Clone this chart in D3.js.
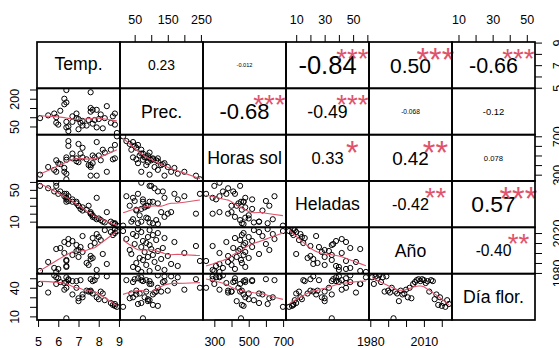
<!DOCTYPE html>
<html>
<head>
<meta charset="utf-8">
<script src="https://cdn.jsdelivr.net/npm/d3@7"></script>
<style>
  body { margin: 0; background: #fff; }
  svg { display: block; font-family: "Liberation Sans", Arial, sans-serif; }
</style>
</head>
<body>
<svg id="chart" width="559" height="348"></svg>
<script>
// variable names shown on the diagonal
const labels = ['Temp.', 'Prec.', 'Horas sol', 'Heladas', 'Año', 'Día flor.'];

// one row per year
const anio = [1981, 1982, 1983, 1984, 1985, 1986, 1987, 1988, 1989, 1990,
  1991, 1992, 1993, 1994, 1995, 1996, 1997, 1998, 1999, 2000,
  2001, 2002, 2003, 2004, 2005, 2006, 2007, 2008, 2009, 2010,
  2011, 2012, 2013, 2014, 2015, 2016, 2017, 2018, 2019, 2020,
  2021, 2022, 2023, 2024];
const temp = [5.9, 5.1, 7.9, 6.0, 5.8, 6.4, 6.4, 7.5, 8.4, 7.4,
  5.5, 6.4, 6.4, 7.6, 7.7, 7.0, 7.6, 6.7, 8.2, 6.3,
  7.2, 6.9, 7.0, 5.9, 6.1, 7.1, 7.6, 6.9, 6.5, 7.8,
  6.3, 6.7, 8.1, 6.5, 7.7, 8.0, 7.2, 8.7, 7.9, 8.8,
  8.6, 8.9, 8.3, 8.8];
const prec = [70, 95, 140, 60, 120, 45, 180, 85, 160, 55,
  110, 247, 75, 130, 65, 90, 150, 105, 40, 200,
  80, 120, 35, 100, 135, 70, 235, 95, 50, 85,
  170, 75, 115, 25, 140, 90, 55, 105, 45, 120,
  70, 15, 95, 60];
const horasSol = [330, 300, 290, 420, 350, 480, 310, 400, 330, 460,
  380, 252, 455, 400, 500, 430, 380, 470, 560, 330,
  480, 440, 620, 450, 410, 520, 290, 470, 600, 480,
  370, 520, 450, 650, 420, 500, 580, 460, 640, 470,
  560, 699, 530, 610];
const heladas = [59, 55, 40, 45, 48, 40, 38, 30, 22, 25,
  52, 45, 35, 22, 18, 30, 20, 35, 10, 42,
  28, 33, 30, 55, 48, 26, 20, 35, 36, 15,
  45, 38, 12, 42, 16, 14, 24, 8, 13, 7,
  10, 5, 9, 8];
const diaFlor = [51, 44, 52, 50, 53, 46, 51, 36, 52, 37,
  35, 40, 8, 36, 34, 26, 37, 33, 34, 38,
  30, 40, 29, 44, 46, 48, 49, 47, 49, 48,
  45, 47, 36, 48, 47, 28, 33, 22, 30, 21,
  24, 20, 27, 23];

// upper triangle, row by row
const corLabels = ['0.23', '-0.012', '-0.84', '0.50', '-0.66',
  '-0.68', '-0.49', '-0.068', '-0.12',
  '0.33', '0.42', '0.078',
  '-0.42', '0.57',
  '-0.40'];
const corStars = ['', '', '***', '***', '***',
  '***', '***', '', '',
  '*', '**', '',
  '**', '***',
  '**'];

// axis ticks and the labels R kept after overlap checks
const ticks = [[5, 6, 7, 8, 9], [50, 100, 150, 200, 250], [300, 400, 500, 600, 700],
  [10, 20, 30, 40, 50, 60], [1980, 1990, 2000, 2010, 2020], [10, 20, 30, 40, 50]];
const labelsH = [[5, 6, 7, 8, 9], [50, 150, 250], [300, 500, 700],
  [10, 30, 50], [1980, 2010], [10, 30, 50]];
const labelsV = [[5, 7, 9], [50, 200], [300, 700],
  [10, 50], [1980, 2020], [10, 40]];

const vars = [temp, prec, horasSol, heladas, anio, diaFlor];
const red = '#DF536B';

const W = 559, H = 348;
const margin = { top: 42, right: 24, bottom: 28, left: 37 };
const n = labels.length;
const pw = (W - margin.left - margin.right) / n;
const ph = (H - margin.top - margin.bottom) / n;
const tickFont = 12.5;

const svg = d3.select('#chart');
const g = svg.append('g').attr('transform', `translate(${margin.left},${margin.top})`);

// 4% range extension like R's default axes
const ext = v => {
  const [a, b] = d3.extent(v);
  const d = (b - a) * 0.04;
  return [a - d, b + d];
};
const xs = vars.map(v => d3.scaleLinear().domain(ext(v)).range([0, pw]));
const ys = vars.map(v => d3.scaleLinear().domain(ext(v)).range([ph, 0]));

// R's lowess (clowess without the delta shortcut)
function lowess(xv, yv, f = 2 / 3, iter = 3) {
  const idx = d3.range(xv.length).sort((a, b) => xv[a] - xv[b]);
  const x = idx.map(i => xv[i]), y = idx.map(i => yv[i]);
  const N = x.length;
  const ns = Math.max(2, Math.min(N, Math.floor(f * N + 1e-7)));
  const rw = new Array(N).fill(1);
  const fit = new Array(N).fill(0);
  const range = x[N - 1] - x[0];
  for (let it = 0; it <= iter; it++) {
    let nleft = 0, nright = ns - 1;
    for (let i = 0; i < N; i++) {
      while (nright < N - 1) {
        if (x[i] - x[nleft] <= x[nright + 1] - x[i]) break;
        nleft++; nright++;
      }
      const h = Math.max(x[i] - x[nleft], x[nright] - x[i]);
      const h9 = 0.999 * h, h1 = 0.001 * h;
      const w = new Array(N).fill(0);
      let sw = 0, j;
      for (j = nleft; j < N; j++) {
        const r = Math.abs(x[j] - x[i]);
        if (r <= h9) {
          w[j] = (r <= h1 ? 1 : Math.pow(1 - Math.pow(r / h, 3), 3)) * rw[j];
          sw += w[j];
        } else if (x[j] > x[i]) break;
      }
      const nrt = j - 1;
      if (sw <= 0) { fit[i] = y[i]; continue; }
      for (let k = nleft; k <= nrt; k++) w[k] /= sw;
      if (h > 0) {
        let a = 0;
        for (let k = nleft; k <= nrt; k++) a += w[k] * x[k];
        let b = x[i] - a, c = 0;
        for (let k = nleft; k <= nrt; k++) c += w[k] * (x[k] - a) * (x[k] - a);
        if (Math.sqrt(c) > 0.001 * range) {
          b /= c;
          for (let k = nleft; k <= nrt; k++) w[k] *= (b * (x[k] - a) + 1);
        }
      }
      let s = 0;
      for (let k = nleft; k <= nrt; k++) s += w[k] * y[k];
      fit[i] = s;
    }
    if (it === iter) break;
    const res = y.map((v, i) => Math.abs(v - fit[i]));
    const cmad = 6 * d3.median(res);
    if (cmad < 1e-7 * d3.mean(res)) break;
    for (let k = 0; k < N; k++) {
      const r = res[k];
      rw[k] = r <= 0.001 * cmad ? 1 : r <= 0.999 * cmad ? Math.pow(1 - (r / cmad) * (r / cmad), 2) : 0;
    }
  }
  return x.map((v, i) => [v, fit[i]]);
}

// text width helper
const probe = svg.append('text').attr('font-size', 100).attr('visibility', 'hidden');
const textW = s => { probe.text(s); return probe.node().getComputedTextLength() / 100; };

const labelFs = 0.9 * pw / d3.max(labels, textW);

let ci = 0;
for (let i = 0; i < n; i++) {
  for (let j = 0; j < n; j++) {
    const cell = g.append('g').attr('transform', `translate(${j * pw},${i * ph})`);
    if (i === j) {
      const s = labels[i];
      const desc = /[gjpqy]/.test(s) ? 0.21 : 0;
      cell.append('text')
        .attr('x', pw / 2)
        .attr('y', ph / 2 + (0.716 - desc) / 2 * labelFs)
        .attr('text-anchor', 'middle')
        .attr('font-size', labelFs)
        .text(s);
    } else if (j > i) {
      const txt = corLabels[ci], st = corStars[ci];
      ci++;
      const r = Math.abs(+txt);
      const base = 0.8 * pw / textW(txt);
      const fs = base * (r + 0.3) / 1.3;
      cell.append('text')
        .attr('x', pw / 2)
        .attr('y', ph / 2 + 0.358 * fs)
        .attr('text-anchor', 'middle')
        .attr('font-size', fs)
        .text(txt);
      if (st) {
        cell.append('text')
          .attr('x', 0.8 * pw)
          .attr('y', 0.2 * ph + 0.575 * base)
          .attr('text-anchor', 'middle')
          .attr('font-size', base * 0.95)
          .attr('fill', red)
          .text(st);
      }
    } else {
      const x = xs[j], y = ys[i];
      const clipId = `clip-${i}-${j}`;
      cell.append('clipPath').attr('id', clipId)
        .append('rect').attr('width', pw).attr('height', ph);
      const inner = cell.append('g').attr('clip-path', `url(#${clipId})`);
      inner.selectAll('circle')
        .data(d3.range(vars[j].length))
        .enter()
        .append('circle')
        .attr('cx', k => x(vars[j][k]))
        .attr('cy', k => y(vars[i][k]))
        .attr('r', 2.6)
        .attr('fill', 'none')
        .attr('stroke', '#000')
        .attr('stroke-width', 1);
      inner.append('path')
        .datum(lowess(vars[j], vars[i]))
        .attr('d', d3.line().x(d => x(d[0])).y(d => y(d[1])))
        .attr('fill', 'none')
        .attr('stroke', red)
        .attr('stroke-width', 1.1);
    }
    cell.append('rect')
      .attr('width', pw).attr('height', ph)
      .attr('fill', 'none')
      .attr('stroke', '#000')
      .attr('stroke-width', 1.7);
  }
}
probe.remove();

const fmt = list => d => list.includes(d) ? d : '';

function styleAxis(sel) {
  sel.select('.domain').remove();
  sel.selectAll('.tick line').attr('stroke', '#000').attr('stroke-width', 1);
  sel.selectAll('.tick text')
    .attr('font-size', tickFont)
    .attr('font-family', '"Liberation Sans", Arial, sans-serif')
    .attr('fill', '#000');
}

for (let k = 0; k < n; k++) {
  if (k % 2 === 0) {
    // bottom axis under odd columns, right axis beside odd rows
    const bx = g.append('g')
      .attr('transform', `translate(${k * pw},${n * ph})`)
      .call(d3.axisBottom(xs[k]).tickValues(ticks[k]).tickSize(7).tickSizeOuter(0).tickFormat(fmt(labelsH[k])));
    bx.call(styleAxis);
    bx.selectAll('.tick text').attr('y', 17).attr('dy', '0.716em');
    g.append('line').attr('x1', k * pw + xs[k](ticks[k][0])).attr('x2', k * pw + xs[k](ticks[k][ticks[k].length - 1]))
      .attr('y1', n * ph).attr('y2', n * ph).attr('stroke', '#000');

    const ry = g.append('g')
      .attr('transform', `translate(${n * pw},${k * ph})`)
      .call(d3.axisRight(ys[k]).tickValues(ticks[k]).tickSize(7).tickSizeOuter(0).tickFormat(fmt(labelsV[k])));
    ry.call(styleAxis);
    ry.selectAll('.tick text')
      .attr('x', null).attr('dy', null)
      .attr('text-anchor', 'middle')
      .attr('transform', `translate(${18 + 0.716 * tickFont},0) rotate(-90)`);
  } else {
    // top axis over even columns, left axis beside even rows
    const tx = g.append('g')
      .call(d3.axisTop(xs[k]).tickValues(ticks[k]).tickSize(7).tickSizeOuter(0).tickFormat(fmt(labelsH[k])))
      .attr('transform', `translate(${k * pw},0)`);
    tx.call(styleAxis);
    tx.selectAll('.tick text').attr('y', -18).attr('dy', 0);

    const ly = g.append('g')
      .attr('transform', `translate(0,${k * ph})`)
      .call(d3.axisLeft(ys[k]).tickValues(ticks[k]).tickSize(7).tickSizeOuter(0).tickFormat(fmt(labelsV[k])));
    ly.call(styleAxis);
    ly.selectAll('.tick text')
      .attr('x', null).attr('dy', null)
      .attr('text-anchor', 'middle')
      .attr('transform', 'translate(-18,0) rotate(-90)');
  }
}
</script>
</body>
</html>
